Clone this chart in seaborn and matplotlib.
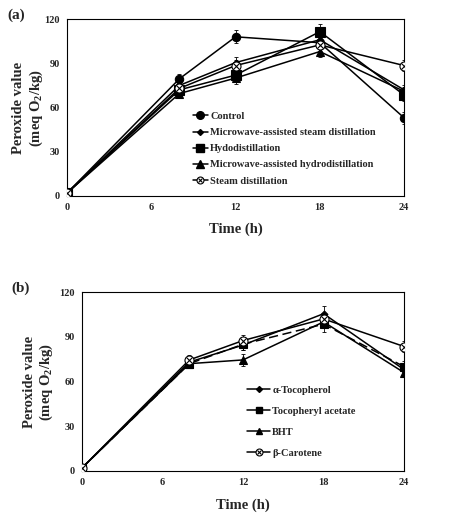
import numpy as np
import pandas as pd
import matplotlib
matplotlib.use("Agg")
import matplotlib.pyplot as plt
import seaborn as sns
from matplotlib.lines import Line2D
from matplotlib.legend_handler import HandlerTuple

# ---- data ----
time_h = [0, 8, 12, 18, 24]

# panel (a): extraction methods
control = [2, 79.5, 108, 104, 53]
masd = [2, 75, 90.5, 106, 72]
hydro = [2, 72, 82, 111.5, 68.5]
mahd = [2, 69.5, 80, 98, 71]
steam = [2, 73, 88.5, 102.5, 88.5]

control_err = [0.5, 3, 4.5, 3, 4]
masd_err = [0.5, 3, 4, 4, 3]
hydro_err = [0.5, 3, 3, 5, 4]
mahd_err = [0.5, 2.5, 4, 4, 3]
steam_err = [0.5, 3, 4, 4, 3.5]

# panel (b): antioxidants
a_toco = [2, 73, 84.5, 105.5, 68]
toco_ac = [2, 72, 85, 98.5, 70]
bht = [2, 72, 74.5, 100, 66]
b_caro = [2, 74.5, 87.5, 102, 83.5]

a_toco_err = [0.5, 3, 3.5, 5, 3]
toco_ac_err = [0.5, 3, 4, 5, 4]
bht_err = [0.5, 3, 4, 4, 3]
b_caro_err = [0.5, 3, 4, 4, 3.5]

labels_a = ["Control", "Microwave-assisted steam distillation", "Hydodistillation",
            "Microwave-assisted hydrodistillation", "Steam distillation"]
labels_b = ["\u03b1-Tocopherol", "Tocopheryl acetate", "BHT", "\u03b2-Carotene"]

yticks = [0, 30, 60, 90, 120]
xticks = [0, 6, 12, 18, 24]

sns.set_style("white")
plt.rcParams['font.family'] = ['Liberation Serif', 'DejaVu Serif']
plt.rcParams['font.weight'] = 'bold'
plt.rcParams['mathtext.fontset'] = 'custom'
plt.rcParams['mathtext.rm'] = 'Liberation Serif:bold'
plt.rcParams['mathtext.bf'] = 'Liberation Serif:bold'

fig = plt.figure(figsize=(4.5, 5.17), dpi=100)
ax_a = fig.add_axes([0.149, 0.621, 0.749, 0.342])
ax_b = fig.add_axes([0.182, 0.089, 0.716, 0.346])

# marker styles: (marker, size, face)
styles_a = [("o", 6, "black"), ("D", 3.5, "black"), ("s", 6.5, "black"),
            ("^", 6, "black"), ("xo", 6.5, "white")]
styles_b = [("D", 3.5, "black"), ("s", 5.5, "black"), ("^", 5.5, "black"), ("xo", 6.5, "white")]


def draw_series(ax, values, errs, style, ls="-"):
    mk, ms, fc = style
    df = pd.DataFrame({"t": time_h, "v": values})
    ax.errorbar(time_h, values, yerr=errs, fmt="none", ecolor="black",
                elinewidth=0.6, capsize=1.5, capthick=0.6, zorder=2)
    base = "o" if mk == "xo" else mk
    sns.lineplot(data=df, x="t", y="v", ax=ax, color="black", linewidth=1.1,
                 linestyle=ls, marker=base, markersize=ms, markerfacecolor=fc,
                 markeredgecolor="black", markeredgewidth=0.8, zorder=3)
    if mk == "xo":
        ax.plot(time_h, values, linestyle="none", marker="x", markersize=ms * 0.6,
                color="black", markeredgewidth=0.8, zorder=4)


def legend_handles(styles):
    handles = []
    for mk, ms, fc in styles:
        if mk == "xo":
            h1 = Line2D([], [], color="black", lw=1.1, marker="o", markersize=ms - 1.5,
                        markerfacecolor="white", markeredgecolor="black", markeredgewidth=0.8)
            h2 = Line2D([], [], color="black", lw=0, marker="x", markersize=(ms - 1.5) * 0.6,
                        markeredgewidth=0.8)
            handles.append((h1, h2))
        else:
            handles.append(Line2D([], [], color="black", lw=1.1, linestyle="-", marker=mk,
                                  markersize=ms - 0.5, markerfacecolor=fc,
                                  markeredgecolor="black"))
    return handles


def style_axes(ax, ylabelpad):
    ax.set_xlim(0, 24)
    ax.set_ylim(0, 120)
    ax.set_xticks(xticks)
    ax.set_yticks(yticks)
    ax.tick_params(axis="both", labelsize=7.5, length=2, width=0.6, direction="out", pad=3)
    for lab in ax.get_xticklabels() + ax.get_yticklabels():
        lab.set_fontweight("bold")
    for sp in ax.spines.values():
        sp.set_linewidth(0.8)
        sp.set_color("black")
    ax.set_xlabel("Time (h)", fontsize=10.5, fontweight="bold", labelpad=8)
    ax.set_ylabel("Peroxide value\n(meq O$_2$/kg)", fontsize=10.5, fontweight="bold",
                  labelpad=ylabelpad)


# ---- panel (a) ----
series_a = [(control, control_err), (masd, masd_err), (hydro, hydro_err),
            (mahd, mahd_err), (steam, steam_err)]
for (vals, errs), st in zip(series_a, styles_a):
    draw_series(ax_a, vals, errs, st)
style_axes(ax_a, 0)
ax_a.legend(legend_handles(styles_a), labels_a,
            handler_map={tuple: HandlerTuple(ndivide=1)},
            loc="upper left", bbox_to_anchor=(0.36, 0.5), frameon=False,
            fontsize=7.5, handlelength=1.5, handletextpad=0.2, labelspacing=0.66,
            borderaxespad=0)
ax_a.text(-0.15, 1.02, "(a)", transform=ax_a.transAxes, fontsize=11, fontweight="bold",
          ha="center", va="center")

# ---- panel (b) ----
series_b = [(a_toco, a_toco_err), (toco_ac, toco_ac_err), (bht, bht_err), (b_caro, b_caro_err)]
ls_b = ["-", (0, (6, 3)), "-", "-"]
for (vals, errs), st, ls in zip(series_b, styles_b, ls_b):
    draw_series(ax_b, vals, errs, st, ls)
style_axes(ax_b, 3)
ax_b.legend(legend_handles(styles_b), labels_b,
            handler_map={tuple: HandlerTuple(ndivide=1)},
            loc="upper left", bbox_to_anchor=(0.5, 0.5), frameon=False,
            fontsize=7.5, handlelength=2.2, handletextpad=0.2, labelspacing=1.12,
            borderaxespad=0)
ax_b.text(-0.19, 1.02, "(b)", transform=ax_b.transAxes, fontsize=11, fontweight="bold",
          ha="center", va="center")

fig.savefig("out.png", dpi=100)
